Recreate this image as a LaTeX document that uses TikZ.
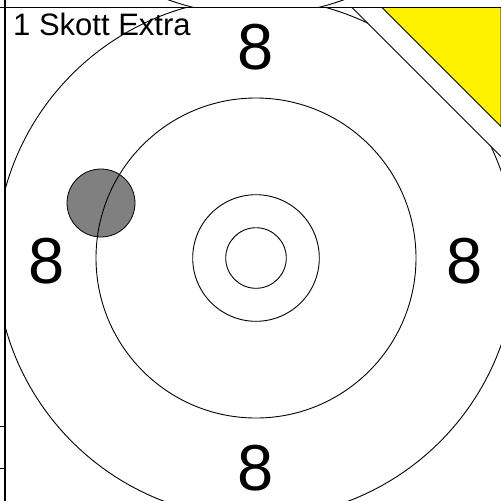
\documentclass[tikz,border=0pt]{standalone}
\usepackage{fontspec}
\setmainfont{Liberation Sans}
\begin{document}
\begin{tikzpicture}[x=1pt,y=-1pt,
  ring/.style={draw=black,line width=0.9pt},
  eight/.style={font=\fontsize{65}{65}\selectfont, inner sep=0pt, anchor=base},
  frameline/.style={draw=black,line width=1.6pt}]
\useasboundingbox (0,0) rectangle (501,501);
\fill[white] (0,0) rectangle (501,501);
% main target
\begin{scope}
  \clip (4.7,7.5) rectangle (501,501);
  \filldraw[fill=black!50, draw=black, line width=0.8pt] (101,203) circle (34);
  \draw[ring] (256,258) circle (30.3);
  \draw[ring] (256,258) circle (63.3);
  \draw[ring] (256,258) circle (160);
  \draw[ring] (256,258) circle (260);
\end{scope}
% target above (only its lowest arc shows)
\begin{scope}
  \clip (4.7,0) rectangle (501,7.5);
  \draw[ring] (256,-245) circle (260);
\end{scope}
% cut corner and yellow triangle
\fill[white] (352,7.5) -- (501,7.5) -- (501,156.5) -- cycle;
\draw[line width=0.9pt] (352,7.5) -- (501,156.5);
\filldraw[fill=yellow, draw=black, line width=0.9pt] (382,7.5) -- (501,7.5) -- (501,126.5) -- cycle;
% frame lines
\draw[frameline] (0,7.5) -- (501,7.5);
\draw[frameline] (4.7,0) -- (4.7,501);
\draw[line width=0.9pt] (0,426.7) -- (4.7,426.7);
\draw[line width=0.9pt] (0,468.3) -- (4.7,468.3);
% labels
\node[font=\fontsize{31}{31}\selectfont, anchor=base west, inner sep=0pt] (title) at (13,35) {1 Skott Extra};
\node[eight] (top8) at (256,69) {8};
\node[eight] (left8) at (47,283) {8};
\node[eight] (right8) at (465,283) {8};
\node[eight] (bottom8) at (256,490) {8};
\end{tikzpicture}
\end{document}
